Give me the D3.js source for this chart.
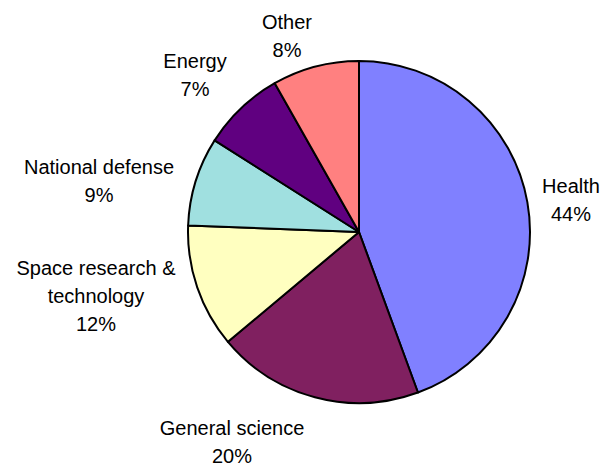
<!DOCTYPE html>
<html>
<head>
<meta charset="utf-8">
<script src="https://cdn.jsdelivr.net/npm/d3@7"></script>
<style>
  html, body { margin: 0; padding: 0; background: #ffffff; }
  svg { display: block; }
</style>
</head>
<body>
<div id="chart"></div>
<script>
// ---- data ----
const categories = ["Health", "General science", "Space research & technology", "National defense", "Energy", "Other"];
// slice shares as read from the drawn wedges
const values = [44.4, 19.5, 11.7, 8.4, 7.8, 8.2];
// percentage labels as printed on the chart
const pctLabels = ["44%", "20%", "12%", "9%", "7%", "8%"];
const labelLines = [
  ["Health"],
  ["General science"],
  ["Space research &", "technology"],
  ["National defense"],
  ["Energy"],
  ["Other"]
];
const colors = ["#8080FF", "#802060", "#FFFFC0", "#A0E0E0", "#600080", "#FF8080"];

// ---- layout ----
const W = 604, H = 466;
const cx = 359, cy = 232, R = 171;
const fontSize = 20, lineH = 28;
// label anchors (center x, first baseline y)
const labelPos = [
  [571, 193],
  [232, 435],
  [96, 275],
  [99, 174],
  [195, 68],
  [287, 29]
];

const svg = d3.select("#chart").append("svg")
  .attr("width", W).attr("height", H);

const pie = d3.pie().value(d => d).sort(null);
const arc = d3.arc().innerRadius(0).outerRadius(R);
const arcs = pie(values);

const g = svg.append("g").attr("transform", `translate(${cx},${cy})`);
g.selectAll("path")
  .data(arcs)
  .enter().append("path")
  .attr("d", arc)
  .attr("fill", (d, i) => colors[i])
  .attr("stroke", "#000")
  .attr("stroke-width", 2)
  .attr("stroke-linejoin", "round");

const labels = svg.append("g")
  .attr("font-family", "'Liberation Sans', Arial, sans-serif")
  .attr("font-size", fontSize)
  .attr("fill", "#000")
  .attr("text-anchor", "middle");

arcs.forEach((a, i) => {
  const lines = labelLines[i].concat([pctLabels[i]]);
  const t = labels.append("text");
  lines.forEach((ln, j) => {
    t.append("tspan")
      .attr("x", labelPos[i][0])
      .attr("y", labelPos[i][1] + j * lineH)
      .text(ln);
  });
});
</script>
</body>
</html>
